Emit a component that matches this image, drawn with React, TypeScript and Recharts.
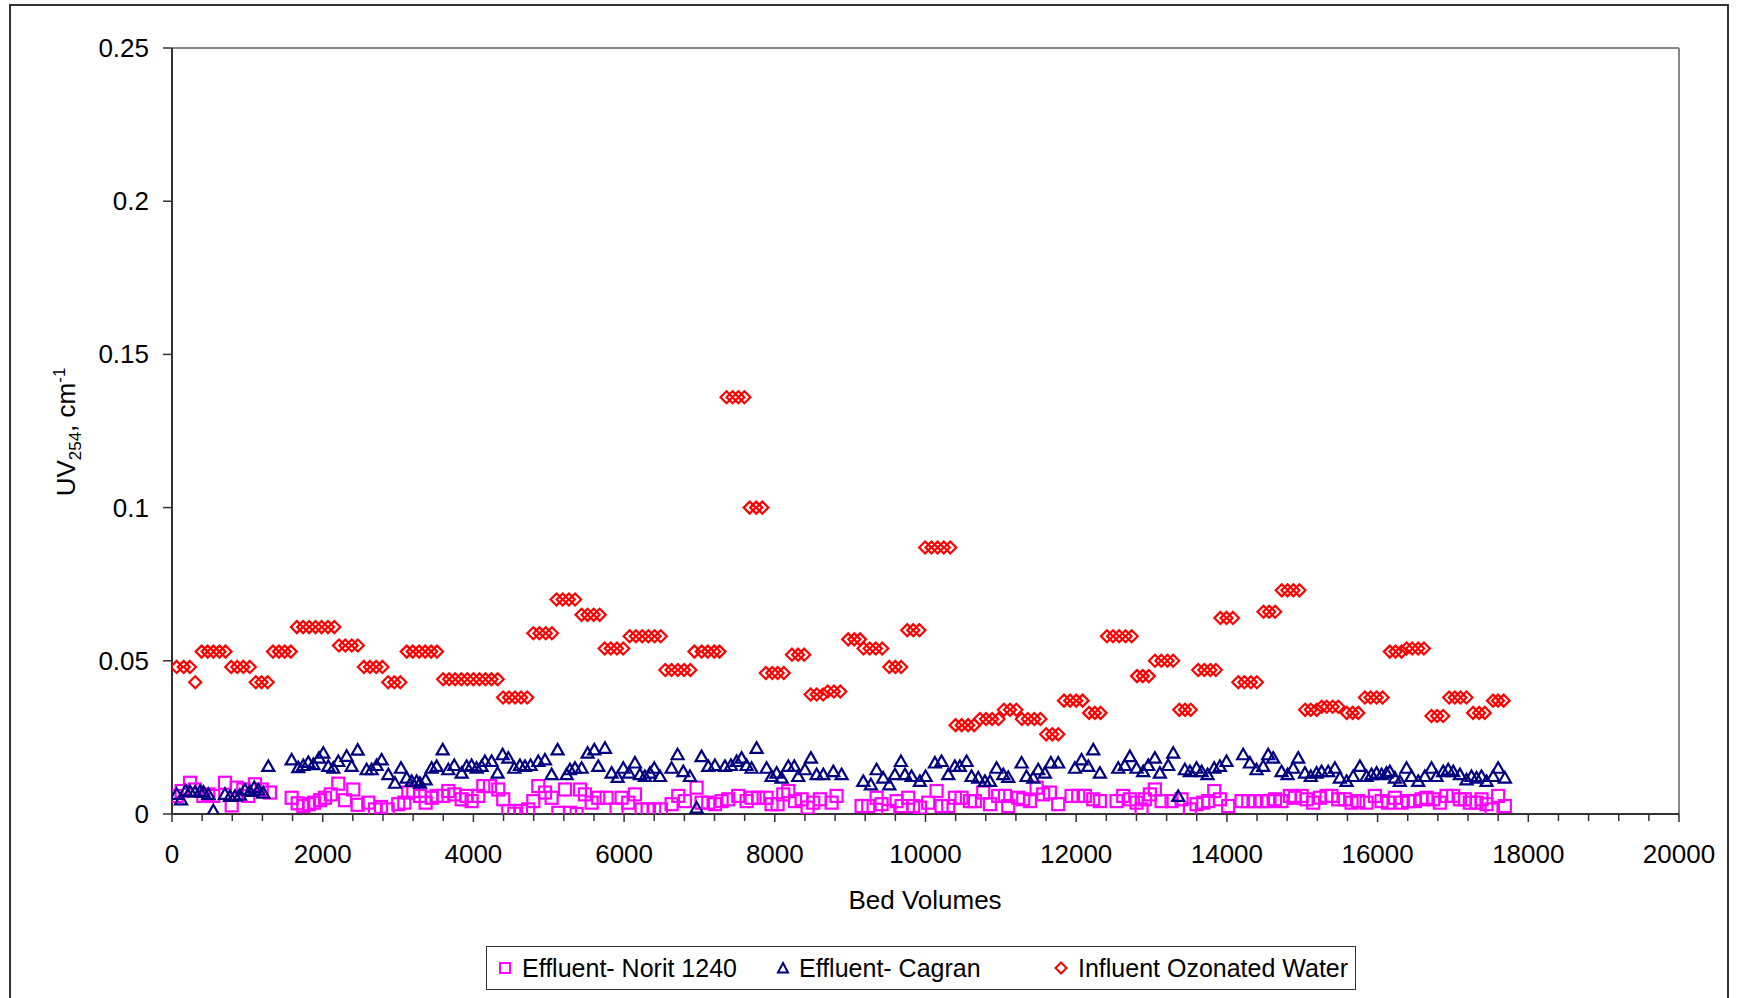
import { ReferenceLine, Scatter, ScatterChart, XAxis, YAxis } from "recharts";

// [bed volumes, UV254 in cm-1]
const noritPoints: [number, number][] = [
  [62, 0.0059], [128, 0.0075], [239, 0.0102], [305, 0.008], [416, 0.0059], [482, 0.0064],
  [548, 0.0059], [703, 0.0102], [792, 0.0028], [858, 0.0086], [947, 0.008], [1013, 0.0059],
  [1101, 0.0097], [1190, 0.008], [1300, 0.007],
  [1588, 0.0053], [1668, 0.0035], [1743, 0.0026], [1818, 0.0032], [1884, 0.0037], [1964, 0.0045],
  [2030, 0.0053], [2106, 0.0064], [2207, 0.0099], [2296, 0.0045], [2406, 0.008], [2464, 0.003],
  [2605, 0.0037], [2694, 0.0015], [2773, 0.0023], [2862, 0.0015], [3003, 0.0032], [3083, 0.0037],
  [3136, 0.007], [3202, 0.0075], [3291, 0.0059], [3366, 0.0037], [3446, 0.0053], [3512, 0.0059],
  [3600, 0.0059], [3667, 0.0075], [3746, 0.0064], [3844, 0.0048], [3910, 0.0059], [3976, 0.0042],
  [4065, 0.0059], [4131, 0.0091], [4220, 0.0091], [4330, 0.008], [4396, 0.0048], [4463, 0.001],
  [4543, 0.0001], [4631, 0.001], [4728, 0.0015], [4795, 0.0042], [4861, 0.0091], [4950, 0.007],
  [5038, 0.0053], [5127, 0.0004], [5215, 0.008], [5281, 0.0004], [5370, 0.0], [5414, 0.008],
  [5480, 0.0064], [5569, 0.0037], [5657, 0.0053], [5768, 0.0053], [5900, 0.0015], [5967, 0.0053],
  [6055, 0.0037], [6144, 0.0064], [6232, 0.0015], [6312, 0.0015], [6400, 0.0015], [6489, 0.0015],
  [6630, 0.0032], [6719, 0.0059], [6807, 0.0042], [6962, 0.0086], [7028, 0.0037], [7117, 0.0037],
  [7205, 0.0032], [7294, 0.0042], [7382, 0.0048], [7515, 0.0059], [7626, 0.0042], [7692, 0.0053],
  [7780, 0.0053], [7891, 0.0053], [7957, 0.0032], [8037, 0.0032], [8112, 0.0064], [8179, 0.0075],
  [8267, 0.0042], [8356, 0.0048], [8435, 0.0021], [8510, 0.0037], [8599, 0.0048], [8754, 0.0037],
  [8820, 0.0059],
  [9152, 0.0026], [9240, 0.0026], [9351, 0.0053], [9417, 0.0032], [9506, 0.001], [9616, 0.0042],
  [9682, 0.0026], [9771, 0.0053], [9837, 0.0026], [9926, 0.0021], [10036, 0.0037], [10147, 0.0075],
  [10213, 0.0026], [10302, 0.0026], [10390, 0.0053], [10478, 0.0053], [10589, 0.0042], [10656, 0.0042],
  [10766, 0.007], [10855, 0.0032], [10965, 0.0059], [11054, 0.0059], [11098, 0.0026], [11231, 0.0053],
  [11297, 0.0048], [11386, 0.0042], [11474, 0.0086], [11562, 0.0064], [11651, 0.007], [11761, 0.0032],
  [11938, 0.0059], [12027, 0.0059], [12115, 0.0059], [12226, 0.0048], [12314, 0.0042],
  [12536, 0.0042], [12624, 0.0059], [12712, 0.0048], [12801, 0.0037], [12867, 0.0015], [12911, 0.0048],
  [12978, 0.0064], [13044, 0.008], [13133, 0.0042], [13265, 0.0042], [13398, 0.0048], [13509, 0.0015],
  [13597, 0.0032], [13686, 0.0037], [13752, 0.0042], [13832, 0.0075], [13907, 0.0048], [14017, 0.0026],
  [14194, 0.0042], [14283, 0.0042], [14371, 0.0042], [14460, 0.0042], [14548, 0.0042], [14637, 0.0048],
  [14725, 0.0042], [14836, 0.0059], [14902, 0.0053], [14991, 0.0059], [15057, 0.0048], [15145, 0.0037],
  [15234, 0.0053], [15322, 0.0059], [15388, 0.0059], [15477, 0.0048], [15565, 0.0048], [15654, 0.0037],
  [15742, 0.0042], [15853, 0.0037], [15964, 0.0059], [16052, 0.0042], [16141, 0.0037], [16229, 0.0053],
  [16318, 0.0037], [16406, 0.0042], [16494, 0.0042], [16583, 0.0048], [16649, 0.0053], [16738, 0.0048],
  [16826, 0.0037], [16915, 0.0059], [17003, 0.0059], [17092, 0.0048], [17158, 0.0048], [17224, 0.0037],
  [17313, 0.0037], [17379, 0.0048], [17445, 0.0032], [17512, 0.0015], [17600, 0.0059], [17689, 0.0026],
];

const cagranPoints: [number, number][] = [
  [62, 0.0066], [120, 0.0048], [181, 0.0077], [239, 0.0075], [305, 0.0073], [372, 0.0075],
  [416, 0.0073], [482, 0.0066], [548, 0.0012], [703, 0.0066], [770, 0.0059], [836, 0.006],
  [902, 0.0063], [969, 0.008], [1035, 0.0075], [1092, 0.0088], [1146, 0.008], [1212, 0.007],
  [1278, 0.0157],
  [1588, 0.0178], [1676, 0.0153], [1743, 0.016], [1809, 0.017], [1876, 0.0163], [1951, 0.0184],
  [2008, 0.02], [2074, 0.0157], [2141, 0.0151], [2207, 0.0173], [2318, 0.019], [2384, 0.0157],
  [2464, 0.021], [2583, 0.0146], [2649, 0.0146], [2716, 0.016], [2782, 0.0178], [2871, 0.013],
  [2959, 0.0102], [3039, 0.0151], [3114, 0.0119], [3180, 0.0108], [3247, 0.0108], [3291, 0.0102],
  [3366, 0.0113], [3446, 0.0151], [3512, 0.0157], [3592, 0.0211], [3667, 0.0146], [3746, 0.016],
  [3844, 0.0135], [3910, 0.0157], [3976, 0.016], [4043, 0.0151], [4109, 0.0157], [4153, 0.0173],
  [4242, 0.0173], [4321, 0.0135], [4388, 0.0195], [4463, 0.0184], [4543, 0.0151], [4618, 0.016],
  [4684, 0.0157], [4759, 0.016], [4861, 0.0173], [4950, 0.0178], [5038, 0.013], [5117, 0.0211],
  [5237, 0.013], [5281, 0.0146], [5348, 0.0151], [5436, 0.0151], [5516, 0.02], [5604, 0.0211],
  [5657, 0.0157], [5746, 0.0216], [5834, 0.0135], [5914, 0.0121], [5989, 0.0151], [6064, 0.0135],
  [6144, 0.0168], [6210, 0.013], [6276, 0.0124], [6343, 0.0135], [6400, 0.0151], [6476, 0.0124],
  [6630, 0.0151], [6710, 0.0195], [6785, 0.014], [6874, 0.0124], [6962, 0.0021], [7028, 0.0189],
  [7117, 0.0157], [7205, 0.016], [7338, 0.0157], [7418, 0.016], [7493, 0.0173], [7559, 0.0184],
  [7626, 0.016], [7692, 0.0151], [7758, 0.0216], [7891, 0.0151], [7957, 0.0124], [8024, 0.0135],
  [8090, 0.0119], [8179, 0.0157], [8258, 0.0157], [8311, 0.0124], [8400, 0.0146], [8479, 0.0184],
  [8555, 0.013], [8643, 0.013], [8776, 0.014], [8886, 0.013],
  [9174, 0.0108], [9275, 0.0097], [9351, 0.0146], [9439, 0.0119], [9519, 0.0097], [9594, 0.013],
  [9674, 0.0173], [9727, 0.013], [9815, 0.0124], [9926, 0.0108], [10001, 0.0124], [10125, 0.0168],
  [10213, 0.0173], [10302, 0.013], [10390, 0.0157], [10456, 0.0157], [10545, 0.0173], [10611, 0.0124],
  [10700, 0.0119], [10788, 0.0108], [10855, 0.0108], [10943, 0.0151], [11032, 0.013], [11098, 0.0121],
  [11275, 0.0168], [11341, 0.0124], [11430, 0.0119], [11496, 0.0146], [11584, 0.0135], [11664, 0.0168],
  [11761, 0.0168], [11983, 0.0151], [12071, 0.0178], [12160, 0.0157], [12226, 0.0211], [12314, 0.0135],
  [12558, 0.0151], [12646, 0.016], [12712, 0.0189], [12801, 0.0151], [12889, 0.014], [12956, 0.016],
  [13044, 0.0184], [13110, 0.0135], [13221, 0.016], [13288, 0.02], [13354, 0.0059], [13442, 0.0146],
  [13509, 0.014], [13597, 0.0151], [13664, 0.014], [13743, 0.013], [13832, 0.0151], [13907, 0.0157],
  [13995, 0.0173], [14216, 0.0195], [14305, 0.0168], [14393, 0.0146], [14482, 0.0157], [14548, 0.0195],
  [14614, 0.0184], [14725, 0.014], [14805, 0.013], [14880, 0.0151], [14946, 0.0184], [15035, 0.0135],
  [15114, 0.0124], [15190, 0.0135], [15256, 0.014], [15344, 0.014], [15433, 0.0151], [15499, 0.0119],
  [15588, 0.0108], [15676, 0.0124], [15765, 0.0157], [15853, 0.0124], [15919, 0.013], [15986, 0.0135],
  [16052, 0.013], [16118, 0.0135], [16163, 0.014], [16229, 0.0119], [16295, 0.0108], [16384, 0.0151],
  [16450, 0.0124], [16539, 0.0108], [16627, 0.0124], [16716, 0.0151], [16782, 0.0124], [16870, 0.014],
  [16937, 0.0146], [17003, 0.014], [17092, 0.013], [17180, 0.0113], [17246, 0.0124], [17313, 0.0119],
  [17379, 0.0124], [17445, 0.0108], [17534, 0.0124], [17600, 0.0151], [17689, 0.0119],
];

const influentPoints: [number, number][] = [
  [62, 0.048], [156, 0.048], [237, 0.048], [308, 0.043],
  [393, 0.053], [473, 0.053], [549, 0.053], [630, 0.053], [710, 0.053],
  [786, 0.048], [866, 0.048], [947, 0.048], [1032, 0.048],
  [1112, 0.043], [1188, 0.043], [1269, 0.043],
  [1340, 0.053], [1420, 0.053], [1496, 0.053], [1576, 0.053],
  [1657, 0.061], [1740, 0.061], [1820, 0.061], [1905, 0.061], [1985, 0.061], [2070, 0.061], [2154, 0.061],
  [2216, 0.055], [2300, 0.055], [2385, 0.055], [2466, 0.055],
  [2547, 0.048], [2627, 0.048], [2710, 0.048], [2793, 0.048],
  [2869, 0.043], [2950, 0.043], [3030, 0.043],
  [3115, 0.053], [3195, 0.053], [3280, 0.053], [3360, 0.053], [3440, 0.053], [3517, 0.053],
  [3598, 0.044], [3678, 0.044], [3758, 0.044], [3840, 0.044], [3920, 0.044],
  [4000, 0.044], [4080, 0.044], [4160, 0.044], [4240, 0.044], [4322, 0.044],
  [4393, 0.038], [4473, 0.038], [4553, 0.038], [4633, 0.038], [4715, 0.038],
  [4795, 0.059], [4876, 0.059], [4960, 0.059], [5042, 0.059],
  [5103, 0.07], [5185, 0.07], [5267, 0.07], [5349, 0.07],
  [5435, 0.065], [5515, 0.065], [5596, 0.065], [5676, 0.065],
  [5742, 0.054], [5823, 0.054], [5905, 0.054], [5988, 0.054],
  [6074, 0.058], [6157, 0.058], [6240, 0.058], [6322, 0.058], [6404, 0.058], [6486, 0.058],
  [6547, 0.047], [6630, 0.047], [6713, 0.047], [6796, 0.047], [6879, 0.047],
  [6933, 0.053], [7030, 0.053], [7111, 0.053], [7196, 0.053], [7266, 0.053],
  [7359, 0.136], [7440, 0.136], [7516, 0.136], [7596, 0.136],
  [7667, 0.1], [7753, 0.1], [7834, 0.1],
  [7881, 0.046], [7967, 0.046], [8038, 0.046], [8119, 0.046],
  [8228, 0.052], [8309, 0.052], [8390, 0.052],
  [8475, 0.039], [8556, 0.039], [8641, 0.039],
  [8703, 0.04], [8784, 0.04], [8869, 0.04],
  [8974, 0.057], [9055, 0.057], [9131, 0.057],
  [9178, 0.054], [9259, 0.054], [9340, 0.054], [9425, 0.054],
  [9520, 0.048], [9601, 0.048], [9677, 0.048],
  [9758, 0.06], [9838, 0.06], [9919, 0.06],
  [9995, 0.087], [10080, 0.087], [10161, 0.087], [10242, 0.087], [10328, 0.087],
  [10399, 0.029], [10480, 0.029], [10565, 0.029], [10646, 0.029],
  [10722, 0.031], [10803, 0.031], [10884, 0.031], [10969, 0.031],
  [11040, 0.034], [11121, 0.034], [11206, 0.034],
  [11278, 0.031], [11358, 0.031], [11444, 0.031], [11525, 0.031],
  [11601, 0.026], [11682, 0.026], [11762, 0.026],
  [11838, 0.037], [11919, 0.037], [12000, 0.037], [12085, 0.037],
  [12171, 0.033], [12247, 0.033], [12323, 0.033],
  [12408, 0.058], [12489, 0.058], [12570, 0.058], [12655, 0.058], [12736, 0.058],
  [12807, 0.045], [12883, 0.045], [12964, 0.045],
  [13045, 0.05], [13130, 0.05], [13211, 0.05], [13287, 0.05],
  [13368, 0.034], [13444, 0.034], [13520, 0.034],
  [13619, 0.047], [13700, 0.047], [13781, 0.047], [13853, 0.047],
  [13914, 0.064], [13995, 0.064], [14080, 0.064],
  [14151, 0.043], [14232, 0.043], [14318, 0.043], [14398, 0.043],
  [14486, 0.066], [14561, 0.066], [14640, 0.066],
  [14728, 0.073], [14804, 0.073], [14883, 0.073], [14962, 0.073],
  [15038, 0.034], [15113, 0.034], [15192, 0.034],
  [15258, 0.035], [15325, 0.035], [15404, 0.035], [15479, 0.035],
  [15589, 0.033], [15669, 0.033], [15744, 0.033],
  [15832, 0.038], [15907, 0.038], [15987, 0.038], [16066, 0.038],
  [16163, 0.053], [16238, 0.053], [16318, 0.053],
  [16384, 0.054], [16459, 0.054], [16539, 0.054], [16614, 0.054],
  [16715, 0.032], [16790, 0.032], [16870, 0.032],
  [16949, 0.038], [17024, 0.038], [17099, 0.038], [17179, 0.038],
  [17267, 0.033], [17347, 0.033], [17422, 0.033],
  [17532, 0.037], [17598, 0.037], [17673, 0.037],
];

const xTicks = [
  0, 400, 800, 1200, 1600, 2000, 2400, 2800, 3200, 3600, 4000, 4400, 4800, 5200, 5600, 6000,
  6400, 6800, 7200, 7600, 8000, 8400, 8800, 9200, 9600, 10000, 10400, 10800, 11200, 11600, 12000,
  12400, 12800, 13200, 13600, 14000, 14400, 14800, 15200, 15600, 16000, 16400, 16800, 17200, 17600,
  18000, 18400, 18800, 19200, 19600, 20000,
];
const yTicks = [0, 0.05, 0.1, 0.15, 0.2, 0.25];

const FONT = '"Liberation Sans", Arial, sans-serif';
const MAGENTA = "#FF00FF";
const NAVY = "#000080";
const RED = "#FF0000";

const toRows = (pts: [number, number][]) => pts.map(([bv, uv]) => ({ bv, uv }));

function squareMark(props: any) {
  const { cx, cy } = props;
  if (cx == null || cy == null) return <g />;
  return <rect x={cx - 6} y={cy - 6} width={12} height={12} fill="none" stroke={MAGENTA} strokeWidth={2.2} />;
}

function triangleMark(props: any) {
  const { cx, cy } = props;
  if (cx == null || cy == null) return <g />;
  return (
    <polygon
      points={`${cx},${cy - 5.5} ${cx + 6},${cy + 5} ${cx - 6},${cy + 5}`}
      fill="none"
      stroke={NAVY}
      strokeWidth={2.2}
    />
  );
}

function diamondMark(props: any) {
  const { cx, cy } = props;
  if (cx == null || cy == null) return <g />;
  return (
    <polygon
      points={`${cx},${cy - 6} ${cx + 6},${cy} ${cx},${cy + 6} ${cx - 6},${cy}`}
      fill="none"
      stroke={RED}
      strokeWidth={2.2}
    />
  );
}

function XTick(props: any) {
  const { x, y, payload } = props;
  const major = payload.value % 2000 === 0;
  return (
    <g>
      <line x1={x} x2={x} y1={y} y2={y + (major ? 8 : 7)} stroke="#333" strokeWidth={1.5} />
      {major && (
        <text x={x} y={y + 49} textAnchor="middle" fontSize={26} fontFamily={FONT} fill="#000">
          {payload.value}
        </text>
      )}
    </g>
  );
}

function YTick(props: any) {
  const { x, y, payload } = props;
  return (
    <g>
      <line x1={x - 9} x2={x} y1={y} y2={y} stroke="#333" strokeWidth={1.5} />
      <text x={x - 23} y={y + 9} textAnchor="end" fontSize={26} fontFamily={FONT} fill="#000">
        {payload.value}
      </text>
    </g>
  );
}

function LegendIcon({ kind }: { kind: "square" | "triangle" | "diamond" }) {
  return (
    <svg width={14} height={14} style={{ display: "block" }}>
      {kind === "square" && <rect x={2} y={2} width={10} height={10} fill="none" stroke={MAGENTA} strokeWidth={2} />}
      {kind === "triangle" && <polygon points="7,2 12,11.5 2,11.5" fill="none" stroke={NAVY} strokeWidth={2} />}
      {kind === "diamond" && <polygon points="7,1.5 12.5,7 7,12.5 1.5,7" fill="none" stroke={RED} strokeWidth={2} />}
    </svg>
  );
}

const legendItems = [
  { name: "Effluent- Norit 1240", kind: "square" as const, iconX: 18, textX: 35 },
  { name: "Effluent- Cagran", kind: "triangle" as const, iconX: 296, textX: 312 },
  { name: "Influent Ozonated Water", kind: "diamond" as const, iconX: 574, textX: 591 },
];

export default function App() {
  return (
    <div style={{ position: "relative", width: 1739, height: 998, background: "#fff", fontFamily: FONT }}>
      <style>{`body { margin: 0; }`}</style>
      <div
        style={{
          position: "absolute",
          left: 9,
          top: 4,
          width: 1720,
          height: 1000,
          border: "2px solid #333",
          boxSizing: "border-box",
        }}
      />
      <div style={{ position: "absolute", left: 0, top: 0 }}>
        <ScatterChart width={1739} height={998} margin={{ top: 48, right: 60, bottom: 84, left: 72 }}>
          <XAxis
            type="number"
            dataKey="bv"
            domain={[0, 20000]}
            ticks={xTicks}
            interval={0}
            height={100}
            tickSize={0}
            tickMargin={0}
            tick={<XTick />}
            axisLine={{ stroke: "#333", strokeWidth: 2 }}
            tickLine={false}
            allowDataOverflow
          />
          <YAxis
            type="number"
            dataKey="uv"
            domain={[0, 0.25]}
            ticks={yTicks}
            interval={0}
            width={100}
            tickSize={0}
            tickMargin={0}
            tick={<YTick />}
            axisLine={{ stroke: "#333", strokeWidth: 2 }}
            tickLine={false}
            allowDataOverflow
          />
          <ReferenceLine y={0.25} stroke="#888" strokeWidth={2} />
          <ReferenceLine x={20000} stroke="#888" strokeWidth={2} />
          <Scatter
            name="Effluent- Norit 1240"
            data={toRows(noritPoints)}
            shape={squareMark}
            isAnimationActive={false}
          />
          <Scatter
            name="Effluent- Cagran"
            data={toRows(cagranPoints)}
            shape={triangleMark}
            isAnimationActive={false}
          />
          <Scatter
            name="Influent Ozonated Water"
            data={toRows(influentPoints)}
            shape={diamondMark}
            isAnimationActive={false}
          />
          <text x={925} y={909} textAnchor="middle" fontSize={26} fontFamily={FONT} fill="#000">
            Bed Volumes
          </text>
          <text
            x={0}
            y={0}
            transform="translate(75 432) rotate(-90)"
            textAnchor="middle"
            fontSize={26}
            fontFamily={FONT}
            fill="#000"
          >
            UV
            <tspan fontSize={17} dy={6}>254</tspan>
            <tspan dy={-6}>, cm</tspan>
            <tspan fontSize={17} dy={-10}>-1</tspan>
          </text>
        </ScatterChart>
      </div>
      <div
        style={{
          position: "absolute",
          left: 486,
          top: 946,
          width: 870,
          height: 44,
          border: "1.5px solid #333",
          boxSizing: "border-box",
          background: "#fff",
        }}
      >
        {legendItems.map((item) => (
          <div key={item.name}>
            <div style={{ position: "absolute", left: item.iconX - 7, top: 14 }}>
              <LegendIcon kind={item.kind} />
            </div>
            <span
              style={{
                position: "absolute",
                left: item.textX,
                top: 6,
                fontSize: 25,
                lineHeight: "30px",
                whiteSpace: "nowrap",
                color: "#000",
              }}
            >
              {item.name}
            </span>
          </div>
        ))}
      </div>
    </div>
  );
}
